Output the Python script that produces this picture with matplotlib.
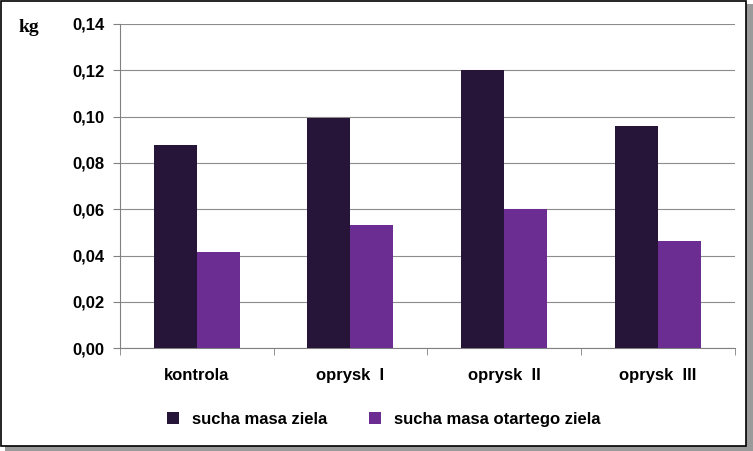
import matplotlib
matplotlib.use("Agg")
import matplotlib.pyplot as plt
import numpy as np
from matplotlib.patches import Rectangle

categories = ["kontrola", "oprysk  I", "oprysk  II", "oprysk  III"]
sucha_masa = [0.0877, 0.0994, 0.1200, 0.0959]
sucha_otarta = [0.0415, 0.0531, 0.0600, 0.0462]
yticks = [0, 0.02, 0.04, 0.06, 0.08, 0.10, 0.12, 0.14]

plt.rcParams["font.family"] = "Liberation Sans"
fig = plt.figure(figsize=(7.53, 4.51), dpi=100)
# outer border with shadow
fig.patches.append(Rectangle((0.006, 0.0), 0.994, 0.992, transform=fig.transFigure, facecolor="#9a9a9a", edgecolor="none", zorder=-2))
fig.patches.append(Rectangle((0.001, 0.012), 0.99, 0.986, transform=fig.transFigure, facecolor="white", edgecolor="black", lw=1.2, zorder=-1))

ax = fig.add_axes([0.159, 0.228, 0.817, 0.719])
ax.set_zorder(5)
ax.patch.set_alpha(0)
x = np.arange(len(categories))
w = 0.28
ax.bar(x - w/2, sucha_masa, w, color="#261538", label="sucha masa ziela", zorder=3)
ax.bar(x + w/2, sucha_otarta, w, color="#6B2D91", label="sucha masa otartego ziela", zorder=3)
ax.set_xlim(-0.5, 3.5)
ax.set_ylim(0, 0.14)
ax.set_yticks(yticks)
ax.set_yticklabels([f"{v:.2f}".replace(".", ",") for v in yticks], fontsize=12, fontweight="bold")
ax.set_xticks(x)
ax.set_xticklabels(categories, fontsize=12, fontweight="bold")
ax.grid(axis="y", color="#8c8c8c", lw=0.8, zorder=0)
for s in ["top", "right"]:
    ax.spines[s].set_visible(False)
ax.spines["left"].set_color("#808080")
ax.spines["bottom"].set_color("#808080")
ax.set_xticks([-0.5, 0.5, 1.5, 2.5, 3.5], minor=True)
ax.tick_params(axis="x", which="major", length=0, pad=14)
ax.tick_params(axis="x", which="minor", length=5, color="#808080")
ax.tick_params(axis="y", length=5, color="#808080", pad=6)
t = fig.text(0.025, 0.93, "kg", fontsize=14, fontweight="bold", family="Liberation Serif")
t.set_zorder(6)
lg = fig.legend(loc="center", bbox_to_anchor=(0.51, 0.07), ncol=2, frameon=False,
           prop={"size": 12, "weight": "bold"}, handlelength=0.7, handleheight=0.7, columnspacing=2.5)
lg.set_zorder(6)
fig.savefig("out.png", dpi=100)
